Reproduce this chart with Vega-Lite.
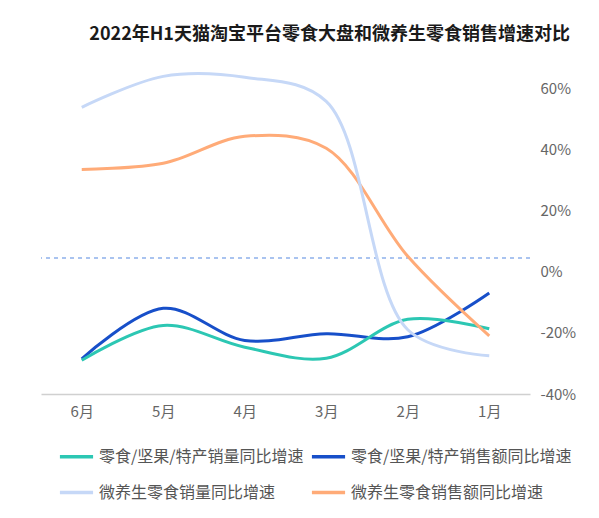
{
  "$schema": "https://vega.github.io/schema/vega-lite/v6.json",
  "description": "2022 H1 snack sales growth, mirrored layout",
  "autosize": "none",
  "width": 489,
  "height": 306,
  "padding": {"left": 41, "top": 88, "right": 69, "bottom": 124},
  "background": "white",
  "config": {"view": {"stroke": null}},
  "title": {
    "text": "2022年H1天猫淘宝平台零食大盘和微养生零食销售增速对比",
    "anchor": "end",
    "frame": "group",
    "dx": 40,
    "offset": 23,
    "fontSize": 18,
    "fontWeight": "bold",
    "font": "Noto Sans CJK SC",
    "color": "#1a1a1a"
  },
  "data": {
    "values": [
      {"month": "6月", "series": "零食/坚果/特产销售额同比增速", "value": -28.5},
      {"month": "5月", "series": "零食/坚果/特产销售额同比增速", "value": -12},
      {"month": "4月", "series": "零食/坚果/特产销售额同比增速", "value": -22.5},
      {"month": "3月", "series": "零食/坚果/特产销售额同比增速", "value": -20.3},
      {"month": "2月", "series": "零食/坚果/特产销售额同比增速", "value": -21.3},
      {"month": "1月", "series": "零食/坚果/特产销售额同比增速", "value": -7},
      {"month": "6月", "series": "零食/坚果/特产销量同比增速", "value": -29},
      {"month": "5月", "series": "零食/坚果/特产销量同比增速", "value": -17.6},
      {"month": "4月", "series": "零食/坚果/特产销量同比增速", "value": -24.7},
      {"month": "3月", "series": "零食/坚果/特产销量同比增速", "value": -28.3},
      {"month": "2月", "series": "零食/坚果/特产销量同比增速", "value": -15.6},
      {"month": "1月", "series": "零食/坚果/特产销量同比增速", "value": -18.7},
      {"month": "6月", "series": "微养生零食销售额同比增速", "value": 33.4},
      {"month": "5月", "series": "微养生零食销售额同比增速", "value": 35.4},
      {"month": "4月", "series": "微养生零食销售额同比增速", "value": 44.2},
      {"month": "3月", "series": "微养生零食销售额同比增速", "value": 40.3},
      {"month": "2月", "series": "微养生零食销售额同比增速", "value": 5},
      {"month": "1月", "series": "微养生零食销售额同比增速", "value": -21},
      {"month": "6月", "series": "微养生零食销量同比增速", "value": 53.7},
      {"month": "5月", "series": "微养生零食销量同比增速", "value": 63.8},
      {"month": "4月", "series": "微养生零食销量同比增速", "value": 63.5},
      {"month": "3月", "series": "微养生零食销量同比增速", "value": 55.6},
      {"month": "2月", "series": "微养生零食销量同比增速", "value": -19},
      {"month": "1月", "series": "微养生零食销量同比增速", "value": -27.5}
    ]
  },
  "encoding": {
    "x": {
      "field": "month",
      "type": "ordinal",
      "sort": ["6月", "5月", "4月", "3月", "2月", "1月"],
      "scale": {"type": "point", "padding": 0.5},
      "axis": {
        "title": null,
        "ticks": false,
        "labelAngle": 0,
        "labelPadding": 10,
        "labelFontSize": 15,
        "labelFont": "Noto Sans CJK SC",
        "labelColor": "#666666",
        "domainColor": "#d0d0d0",
        "domainWidth": 1.5
      }
    },
    "y": {
      "field": "value",
      "type": "quantitative",
      "scale": {"domain": [-40, 60], "nice": false},
      "axis": {
        "orient": "right",
        "title": null,
        "values": [-40, -20, 0, 20, 40, 60],
        "labelExpr": "datum.value + '%'",
        "grid": false,
        "ticks": false,
        "domain": false,
        "labelPadding": 10,
        "labelFontSize": 15,
        "labelFont": "Noto Sans CJK SC",
        "labelColor": "#666666"
      }
    }
  },
  "layer": [
    {
      "mark": {"type": "rule", "color": "#a9c3ef", "strokeDash": [4, 4], "strokeWidth": 1},
      "encoding": {"x": null, "y": {"datum": 4.5}}
    },
    {
      "mark": {"type": "line", "interpolate": "catmull-rom", "strokeWidth": 3},
      "encoding": {
        "color": {
          "field": "series",
          "type": "nominal",
          "scale": {
            "domain": ["零食/坚果/特产销量同比增速", "微养生零食销量同比增速", "零食/坚果/特产销售额同比增速", "微养生零食销售额同比增速"],
            "range": ["#2cc7b3", "#c6d8f7", "#174fc9", "#ffab78"]
          },
          "legend": {
            "orient": "none",
            "legendX": 17,
            "legendY": 350,
            "columns": 2,
            "columnPadding": 0,
            "rowPadding": 9,
            "title": null,
            "symbolType": "stroke",
            "symbolSize": 1100,
            "symbolStrokeWidth": 3.5,
            "labelFontSize": 16,
            "labelFont": "Noto Sans CJK SC",
            "labelColor": "#555555",
            "labelLimit": 300
          }
        }
      }
    }
  ]
}
